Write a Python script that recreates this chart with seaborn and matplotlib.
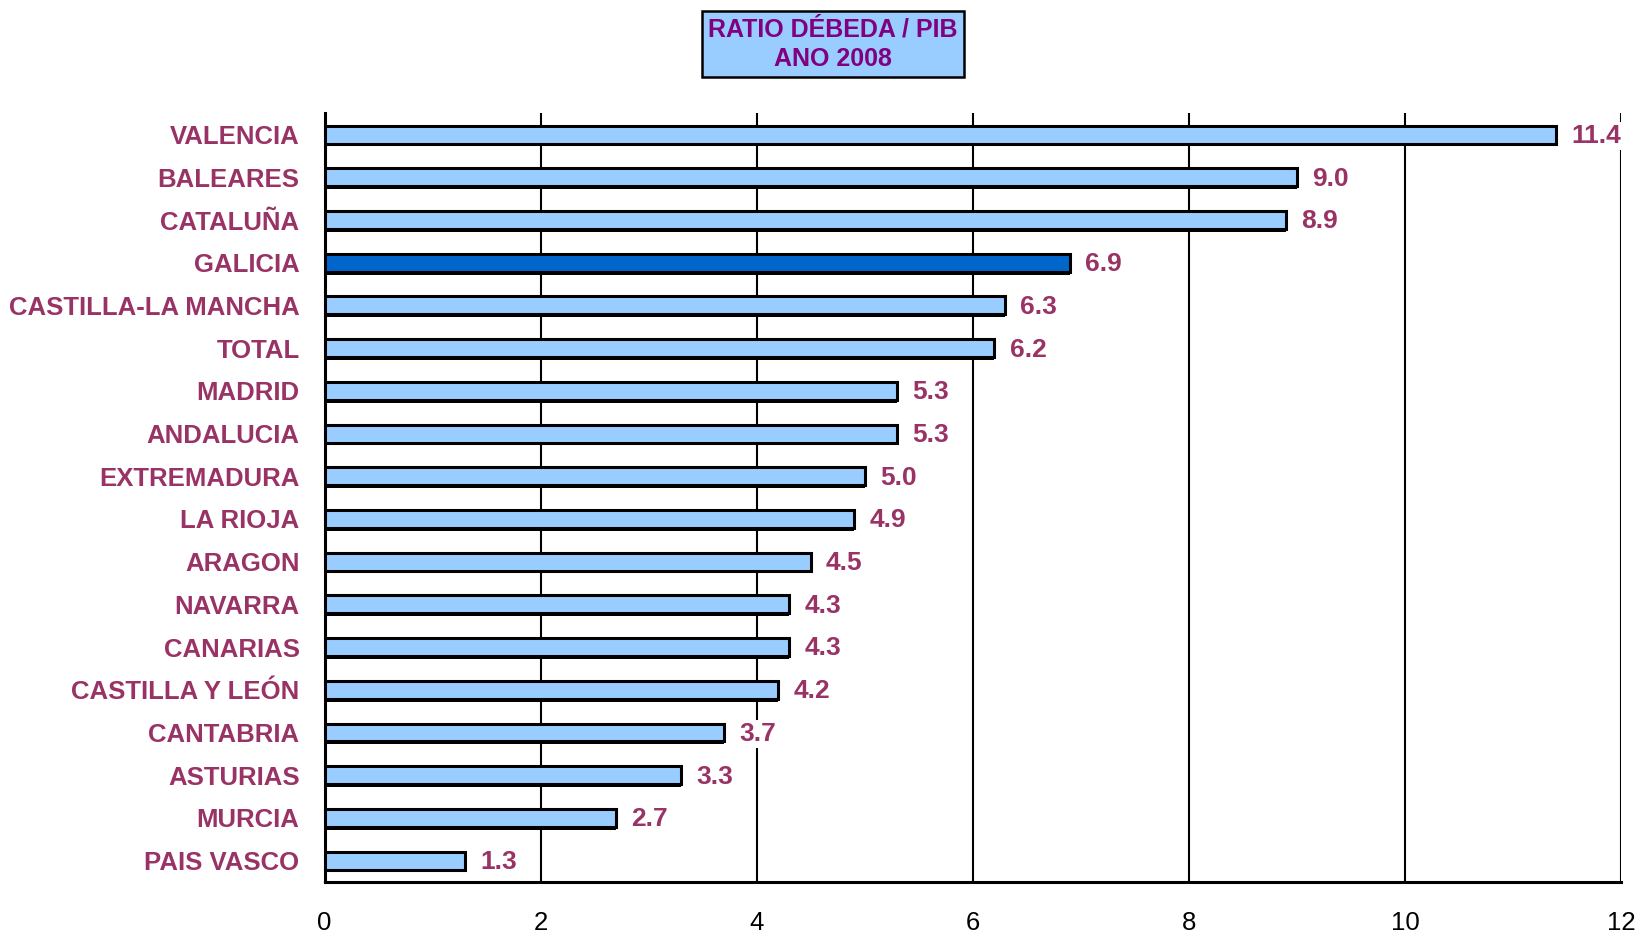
import numpy as np
import pandas as pd
import matplotlib.pyplot as plt
import matplotlib.patheffects as pe
import seaborn as sns

comunidades = [
    "VALENCIA", "BALEARES", "CATALUÑA", "GALICIA", "CASTILLA-LA MANCHA",
    "TOTAL", "MADRID", "ANDALUCIA", "EXTREMADURA", "LA RIOJA", "ARAGON",
    "NAVARRA", "CANARIAS", "CASTILLA Y LEÓN", "CANTABRIA", "ASTURIAS",
    "MURCIA", "PAIS VASCO",
]
ratio = [11.4, 9.0, 8.9, 6.9, 6.3, 6.2, 5.3, 5.3, 5.0, 4.9, 4.5,
         4.3, 4.3, 4.2, 3.7, 3.3, 2.7, 1.3]
destacada = "GALICIA"
xticks = [0, 2, 4, 6, 8, 10, 12]

COR_BARRA = "#99CCFF"
COR_DESTAQUE = "#0066CC"
COR_TEXTO = "#993366"
COR_TITULO = "#800080"

sns.set_style("white")
plt.rcParams["font.family"] = ["Liberation Sans", "DejaVu Sans"]

df = pd.DataFrame({"comunidade": comunidades, "valor": ratio})
paleta = {c: (COR_DESTAQUE if c == destacada else COR_BARRA) for c in comunidades}

fig = plt.figure(figsize=(16.39, 9.34), dpi=100)
ax = fig.add_axes([0.198, 0.0557, 0.791, 0.823])

sns.barplot(
    data=df, x="valor", y="comunidade", hue="comunidade", palette=paleta,
    legend=False, orient="h", width=0.42, edgecolor="black", linewidth=2.2,
    saturation=1, ax=ax, zorder=3,
)

# sombra preta por baixo das barras (como no excel)
sombra = [pe.SimplePatchShadow(offset=(0, -2), shadow_rgbFace="black", alpha=1), pe.Normal()]
for barra in ax.patches:
    barra.set_path_effects(sombra)

# rotulos dos valores
for i, v in enumerate(ratio):
    ax.annotate(
        f"{v:.1f}", xy=(v, i), xytext=(11, -1), textcoords="offset points",
        ha="left", va="center", fontsize=19, fontweight="bold", color=COR_TEXTO,
        bbox=dict(facecolor="white", edgecolor="none", pad=1.5), zorder=4,
    )

ax.set_xlim(0, 12)
ax.set_ylim(len(comunidades) - 0.5, -0.5)
ax.set_xticks(xticks)
ax.set_xticklabels([str(t) for t in xticks], fontsize=18.5)
ax.tick_params(axis="x", direction="out", length=6, width=1.5, pad=15, colors="black")

ax.set_yticks(range(len(comunidades)))
ax.set_yticklabels(comunidades, fontsize=18.5, fontweight="bold", color=COR_TEXTO)
ax.set_yticks(np.arange(-0.5, len(comunidades), 1), minor=True)
ax.tick_params(axis="y", which="major", length=0, pad=18)
ax.tick_params(axis="y", which="minor", direction="out", length=6, width=2.2, color="black")

ax.xaxis.grid(True, color="black", linewidth=1.5)
ax.yaxis.grid(False)
ax.set_axisbelow(True)
ax.set_xlabel("")
ax.set_ylabel("")

for lado in ["top", "right"]:
    ax.spines[lado].set_visible(False)
for lado in ["left", "bottom"]:
    ax.spines[lado].set_color("black")
    ax.spines[lado].set_linewidth(2.2)

fig.text(
    0.508, 0.953, "RATIO DÉBEDA / PIB\nANO 2008", ha="center", va="center",
    multialignment="center", fontsize=18, fontweight="bold", color=COR_TITULO,
    linespacing=1.3,
    bbox=dict(boxstyle="square,pad=0.25", facecolor=COR_BARRA, edgecolor="black", linewidth=1.8),
)

plt.savefig("out.png", dpi=100)
plt.close()
